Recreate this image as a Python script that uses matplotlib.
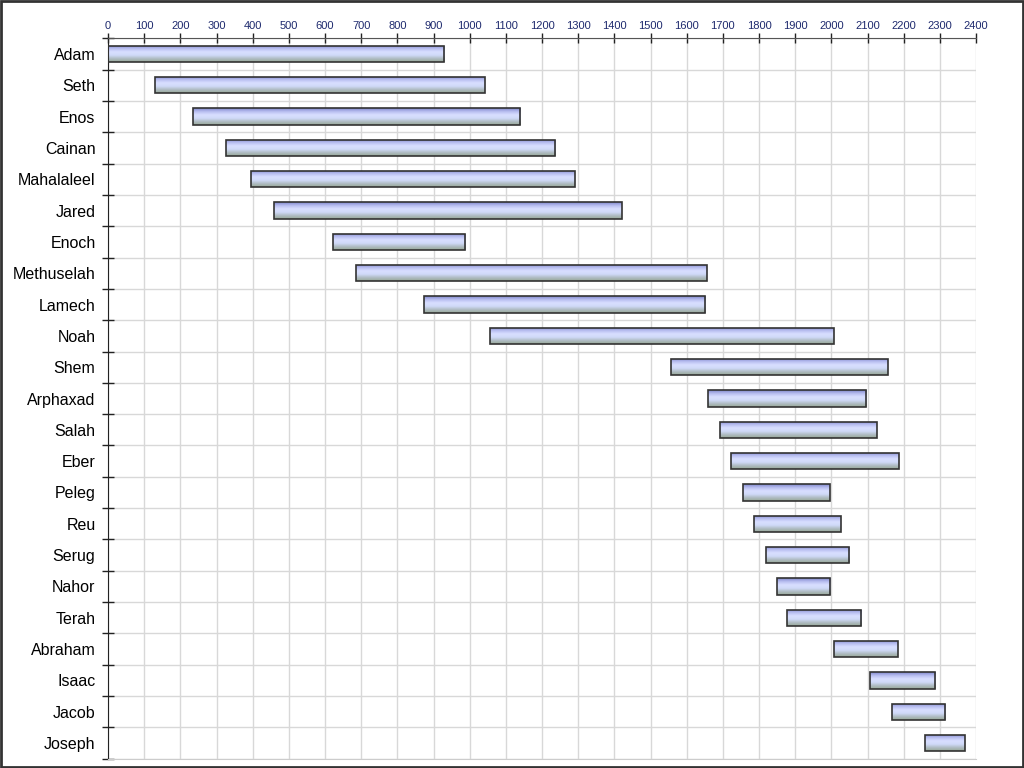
import matplotlib.pyplot as plt
import numpy as np
from matplotlib.colors import LinearSegmentedColormap
from matplotlib.patches import Rectangle

plt.rcParams['font.family'] = ['Liberation Sans', 'DejaVu Sans']

names = ["Adam", "Seth", "Enos", "Cainan", "Mahalaleel", "Jared", "Enoch",
         "Methuselah", "Lamech", "Noah", "Shem", "Arphaxad", "Salah", "Eber",
         "Peleg", "Reu", "Serug", "Nahor", "Terah", "Abraham", "Isaac",
         "Jacob", "Joseph"]
born = [0, 130, 235, 325, 395, 460, 622, 687, 874, 1056, 1558, 1658, 1693,
        1723, 1757, 1787, 1819, 1849, 1878, 2008, 2108, 2168, 2259]
died = [930, 1042, 1140, 1235, 1290, 1422, 987, 1656, 1651, 2006, 2158,
        2096, 2126, 2187, 1996, 2026, 2049, 1997, 2083, 2183, 2288, 2315, 2369]

# vertical shading of the bars, bottom -> top
shade = LinearSegmentedColormap.from_list(
    "shade", ["#98a898", "#b0bcc4", "#d0daf8", "#d8deff", "#b8bef0", "#8088cc"])
grad = np.linspace(0, 1, 64).reshape(-1, 1)

fig = plt.figure(figsize=(10.24, 7.68), dpi=100)
ax = fig.add_axes([108 / 1024, 1 - 758.7 / 768, 868 / 1024, 720.4 / 768])

n = len(names)
h = 0.52
ypos = np.arange(n)
for y, s, e in zip(ypos, born, died):
    bar = ax.barh(y, e - s, left=s, height=h, facecolor="none",
                  edgecolor="#333333", linewidth=1.2, zorder=3)[0]
    im = ax.imshow(grad, extent=[s, e, y + h / 2, y - h / 2], origin="lower",
                   aspect="auto", cmap=shade, zorder=2, interpolation="bilinear")
    im.set_clip_path(bar)

ax.set_xlim(0, 2400)
ax.set_ylim(n - 0.5, -0.5)

ax.xaxis.tick_top()
ax.set_xticks(np.arange(0, 2401, 100))
ax.tick_params(axis="x", direction="inout", length=7, width=1, colors="#222222",
               labelsize=8, labelcolor="#1e2a6e", pad=2)

# y: ticks on row boundaries, labels centred on rows
ax.set_yticks(np.arange(n + 1) - 0.5)
ax.set_yticklabels([])
ax.set_yticks(ypos, minor=True)
ax.set_yticklabels(names, minor=True, fontsize=11.5, color="black")
ax.tick_params(axis="y", which="major", direction="inout", length=8,
               width=1, colors="#222222")
ax.tick_params(axis="y", which="minor", length=0, pad=9)

ax.grid(True, which="major", color="#d8d8d8", linewidth=1)
ax.set_axisbelow(True)

ax.spines["right"].set_visible(False)
ax.spines["bottom"].set_color("#cccccc")
ax.spines["top"].set_color("#555555")
ax.spines["left"].set_color("#222222")

fig.patches.append(Rectangle((0.001, 0.001), 0.998, 0.998, transform=fig.transFigure,
                             fill=False, edgecolor="#333333", linewidth=2))

plt.savefig("out.png", dpi=100)
